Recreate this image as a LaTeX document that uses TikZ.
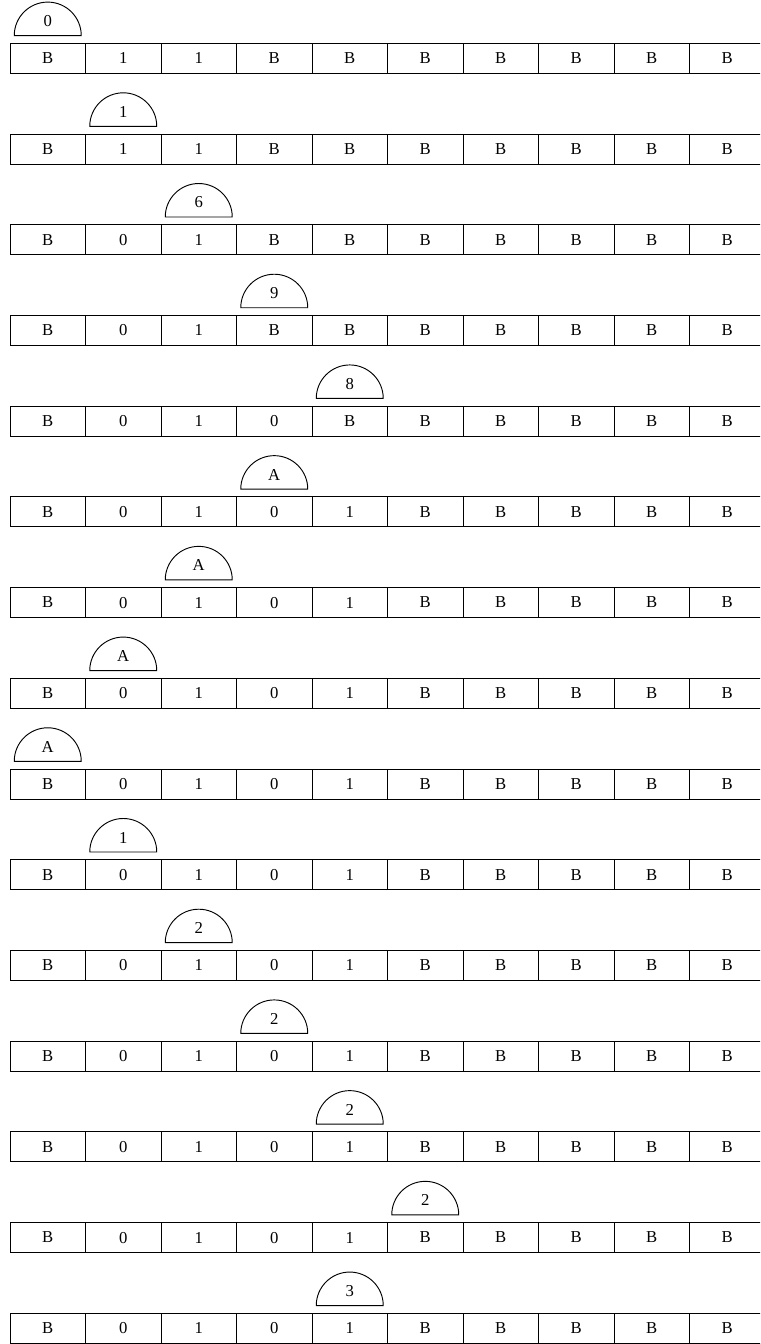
\documentclass[tikz,border=0pt]{standalone}
\usepackage{fontspec}
\setmainfont{Liberation Serif}
\tikzset{
  cell/.style={draw=black, line width=0.7pt, minimum width=56.625pt, minimum height=22.5pt, inner sep=0pt, font=\fontsize{12.5}{14}\selectfont},
  headlab/.style={inner sep=0pt, font=\fontsize{12.5}{14}\selectfont},
  headline/.style={draw=black, line width=0.7pt}
}
\newcommand\tmrow[4]{%
  \pgfmathsetmacro\ty{43.3+#1*90.71}%
  \foreach \s [count=\i from 0] in {#4} {
    \node[cell] (c#1-\i) at ({10+(\i+0.5)*75.5},{\ty+15}) {\s};
  }
  \node[headlab] (h#1) at ({10+(#2+0.5)*75.5},{\ty-7.7-14.5}) {#3};
  \draw[headline] ({10+(#2+0.5)*75.5-33.5},{\ty-7.7}) arc[start angle=180,end angle=0,radius=25.125pt] -- cycle;
}
\begin{document}
\begin{tikzpicture}[x=0.75pt,y=-0.75pt]
\useasboundingbox (0,0) rectangle (760,1344);
\clip (0,0) rectangle (760,1344);
\tmrow{0}{0}{0}{B,1,1,B,B,B,B,B,B,B}
\tmrow{1}{1}{1}{B,1,1,B,B,B,B,B,B,B}
\tmrow{2}{2}{6}{B,0,1,B,B,B,B,B,B,B}
\tmrow{3}{3}{9}{B,0,1,B,B,B,B,B,B,B}
\tmrow{4}{4}{8}{B,0,1,0,B,B,B,B,B,B}
\tmrow{5}{3}{A}{B,0,1,0,1,B,B,B,B,B}
\tmrow{6}{2}{A}{B,0,1,0,1,B,B,B,B,B}
\tmrow{7}{1}{A}{B,0,1,0,1,B,B,B,B,B}
\tmrow{8}{0}{A}{B,0,1,0,1,B,B,B,B,B}
\tmrow{9}{1}{1}{B,0,1,0,1,B,B,B,B,B}
\tmrow{10}{2}{2}{B,0,1,0,1,B,B,B,B,B}
\tmrow{11}{3}{2}{B,0,1,0,1,B,B,B,B,B}
\tmrow{12}{4}{2}{B,0,1,0,1,B,B,B,B,B}
\tmrow{13}{5}{2}{B,0,1,0,1,B,B,B,B,B}
\tmrow{14}{4}{3}{B,0,1,0,1,B,B,B,B,B}
\end{tikzpicture}
\end{document}
